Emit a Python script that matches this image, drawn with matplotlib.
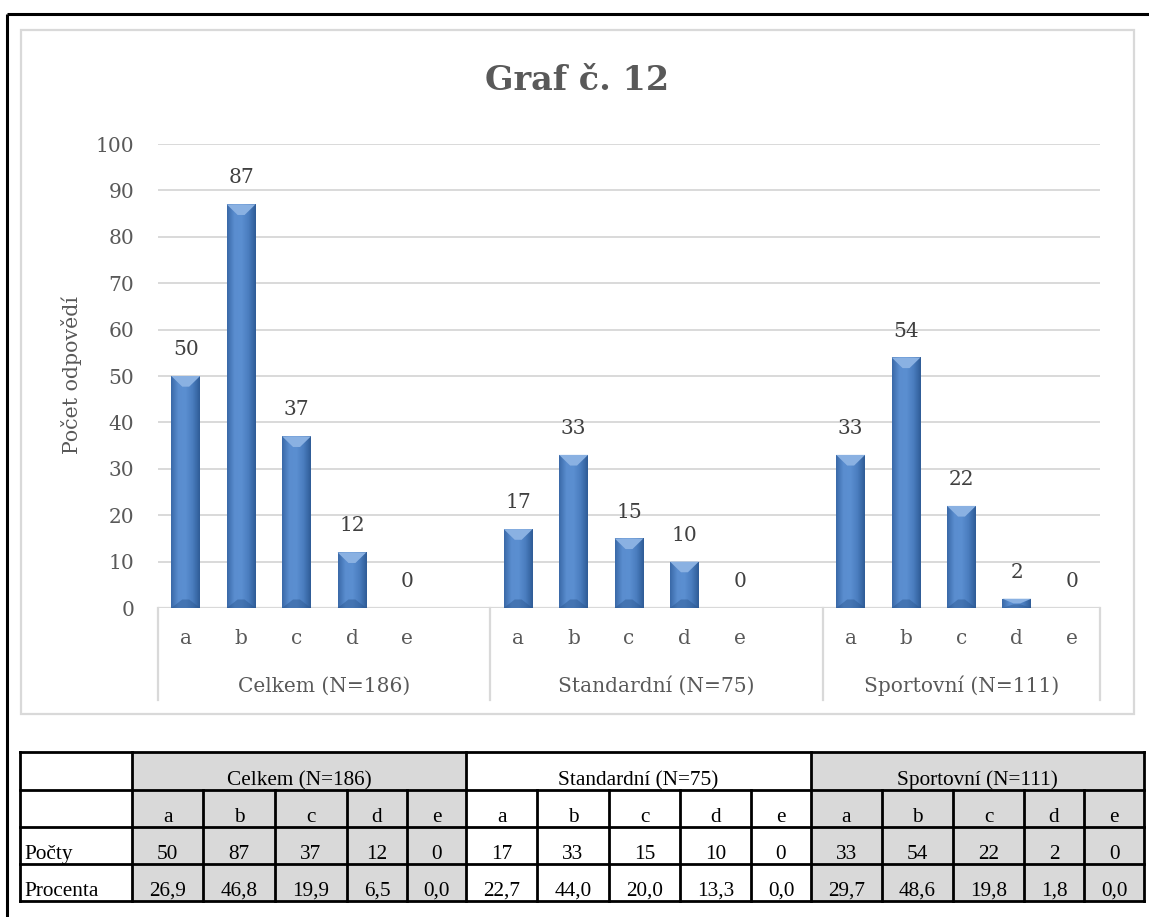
import matplotlib
matplotlib.use("Agg")
import matplotlib.pyplot as plt
import numpy as np
from matplotlib.patches import Rectangle, Polygon
from matplotlib.colors import LinearSegmentedColormap

# ---- data -------------------------------------------------------------
groups = ["Celkem (N=186)", "Standardní (N=75)", "Sportovní (N=111)"]
answers = ["a", "b", "c", "d", "e"]
celkem_counts = [50, 87, 37, 12, 0]
standard_counts = [17, 33, 15, 10, 0]
sport_counts = [33, 54, 22, 2, 0]
celkem_pct = [26.9, 46.8, 19.9, 6.5, 0.0]
standard_pct = [22.7, 44.0, 20.0, 13.3, 0.0]
sport_pct = [29.7, 48.6, 19.8, 1.8, 0.0]
yticks = list(range(0, 101, 10))
title = "Graf č. 12"
ylabel = "Počet odpovědí"
row_labels = ["Počty", "Procenta"]

counts = [celkem_counts, standard_counts, sport_counts]
pcts = [celkem_pct, standard_pct, sport_pct]

W, H = 1149, 917
fig = plt.figure(figsize=(W / 100, H / 100), dpi=100)
fig.patch.set_facecolor("white")

TXT = "#595959"
LBL = "#404040"
GRID = "#d9d9d9"
SERIF = ["DejaVu Serif"]
TABLE_FONT = ["Liberation Serif", "DejaVu Serif"]
FS = 14.5

# ---- background canvas in pixel coordinates ---------------------------
canvas = fig.add_axes([0, 0, 1, 1], zorder=0)
canvas.set_xlim(0, W)
canvas.set_ylim(H, 0)
canvas.axis("off")

# page frame (top and left edges)
canvas.plot([7, W], [13.5, 13.5], color="black", lw=2.2, solid_capstyle="butt")
canvas.plot([7, 7], [13.5, H], color="black", lw=2.2, solid_capstyle="butt")
# chart frame
canvas.add_patch(Rectangle((20.5, 29.5), 1113.5, 684.5, fill=False,
                           edgecolor=GRID, lw=1.6))

# ---- bar chart --------------------------------------------------------
ax_l, ax_r, ax_t, ax_b = 158, 1100, 144, 608
ax = fig.add_axes([ax_l / W, 1 - ax_b / H, (ax_r - ax_l) / W, (ax_b - ax_t) / H],
                  zorder=1)
ax.patch.set_alpha(0)

group_starts = [0, 6, 12]
positions, values = [], []
for g, start in enumerate(group_starts):
    for i, v in enumerate(counts[g]):
        positions.append(start + i)
        values.append(v)

bar_w = 0.52
bars = ax.bar(positions, values, width=bar_w, color="#4a7ebf", zorder=3,
              linewidth=0)

grad = LinearSegmentedColormap.from_list(
    "barfill", ["#3a69a8", "#5a8dcf", "#5b8fd1", "#4a7dbf", "#2f5c97"])
gimg = np.linspace(0, 1, 64).reshape(1, -1)
for b, v in zip(bars, values):
    if v <= 0:
        continue
    x0 = b.get_x()
    x1 = x0 + b.get_width()
    xc = (x0 + x1) / 2
    im = ax.imshow(gimg, cmap=grad, extent=(x0, x1, 0, v), aspect="auto",
                   zorder=3.1, interpolation="bilinear")
    im.set_clip_path(b)
    d = min(2.3, v / 2)
    hw = 0.12 * b.get_width()
    ax.add_patch(Polygon([(x0, v), (x1, v), (xc + hw, v - d), (xc - hw, v - d)],
                         closed=True, facecolor="#8ab1e2", edgecolor="none",
                         zorder=3.2))
    ax.add_patch(Polygon([(x0, 0), (x1, 0), (xc + hw, d * 0.8), (xc - hw, d * 0.8)],
                         closed=True, facecolor="#2a568f", alpha=0.45,
                         edgecolor="none", zorder=3.2))

# value labels above every bar (including the empty ones)
for p, v in zip(positions, values):
    ax.annotate(f"{v}", (p, v), xytext=(0, 19), textcoords="offset points",
                ha="center", va="center", fontsize=FS, color=LBL,
                family=SERIF)

ax.set_xlim(-0.5, 16.5)
ax.set_ylim(0, 100)
ax.set_yticks(yticks)
ax.set_yticklabels([str(t) for t in yticks], fontsize=FS, color=TXT,
                   family=SERIF)
ax.tick_params(axis="y", length=0, pad=17)
ax.grid(axis="y", color=GRID, lw=1.4, zorder=0)
ax.set_axisbelow(True)
for s in ax.spines.values():
    s.set_visible(False)

ax.set_xticks(positions)
ax.set_xticklabels(answers * 3, fontsize=FS, color=TXT, family=SERIF)
ax.tick_params(axis="x", length=0, pad=15)

# category axis line and group separators
ax.axhline(0, color=GRID, lw=1.6, zorder=2)
xt = ax.get_xaxis_transform()
for sep in [-0.5, 5.5, 11.5, 16.5]:
    ax.plot([sep, sep], [0, -0.198], transform=xt, color=GRID, lw=1.6,
            clip_on=False, zorder=2)
for g, start in enumerate(group_starts):
    end = start + len(answers) - 1
    ax.text((start + end) / 2 + (0.5 if g < 2 else 0), -0.168, groups[g],
            transform=xt, ha="center", va="center", fontsize=FS, color=TXT,
            family=SERIF)

fig.text(577 / W, 1 - 81 / H, title, ha="center", va="center", fontsize=24,
         weight="bold", color=TXT, family=SERIF)
fig.text(72 / W, 1 - 375 / H, ylabel, ha="center", va="center", rotation=90,
         fontsize=14.8, color=TXT, family=SERIF)

# ---- data table -------------------------------------------------------
col_edges = [20, 132, 203, 275, 347, 407, 466, 537, 609, 680, 751, 811,
             882, 953, 1024, 1084, 1144]
row_edges = [752, 790, 827, 864, 901]
shade = "#d9d9d9"
group_fill = [shade, "white", shade]
tfs = 15.3

for g in range(3):
    gx0 = col_edges[1 + 5 * g]
    gx1 = col_edges[1 + 5 * (g + 1)]
    canvas.add_patch(Rectangle((gx0, row_edges[0]), gx1 - gx0,
                               row_edges[-1] - row_edges[0],
                               facecolor=group_fill[g], edgecolor="none"))
    canvas.text((gx0 + gx1) / 2, row_edges[1] - 5, groups[g], ha="center",
                va="baseline", fontsize=tfs, family=TABLE_FONT, color="black")
    for i in range(5):
        cx = (col_edges[1 + 5 * g + i] + col_edges[2 + 5 * g + i]) / 2
        canvas.text(cx, row_edges[2] - 5, answers[i], ha="center",
                    va="baseline", fontsize=tfs, family=TABLE_FONT)
        canvas.text(cx, row_edges[3] - 5, f"{counts[g][i]}", ha="center",
                    va="baseline", fontsize=tfs, family=TABLE_FONT)
        canvas.text(cx, row_edges[4] - 5, f"{pcts[g][i]:.1f}".replace(".", ","),
                    ha="center", va="baseline", fontsize=tfs,
                    family=TABLE_FONT)

for r, lab in enumerate(row_labels):
    canvas.text(24, row_edges[3 + r] - 5, lab, ha="left", va="baseline",
                fontsize=tfs, family=TABLE_FONT)

LW = 2.0
for y in row_edges:
    canvas.plot([col_edges[0], col_edges[-1]], [y, y], color="black", lw=LW,
                solid_capstyle="projecting")
for j, x in enumerate(col_edges):
    top = row_edges[0] if j in (0, 1, 6, 11, 16) else row_edges[1]
    canvas.plot([x, x], [top, row_edges[-1]], color="black", lw=LW,
                solid_capstyle="projecting")

fig.savefig("out.png", dpi=100, facecolor="white")
